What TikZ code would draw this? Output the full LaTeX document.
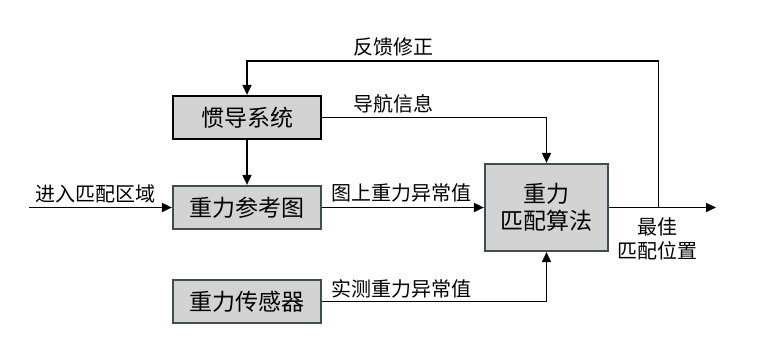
\documentclass[tikz,border=0pt]{standalone}
\usepackage{fontspec}
\setmainfont{Noto Sans CJK SC}
\usetikzlibrary{arrows.meta}
\definecolor{boxfill}{HTML}{D3D3D3}
\definecolor{boxedge}{HTML}{3F4F4F}
\begin{document}
\begin{tikzpicture}[x=1pt,y=-1pt,
  blk/.style={draw=boxedge,line width=2.2pt,fill=boxfill,minimum width=148pt,minimum height=43pt,inner sep=0pt,font=\fontsize{23}{27}\selectfont},
  lbl/.style={inner sep=0pt,anchor=west,font=\fontsize{20}{23}\selectfont},
  conn/.style={line width=1.8pt,-{Triangle[length=10pt,width=9pt]}},
  wire/.style={line width=1.8pt}]
\useasboundingbox (0,0) rectangle (770,341);
\node[blk,draw=black] (ins) at (247,117.5) {惯导系统};
\node[blk] (ref) at (247,207.5) {重力参考图};
\node[blk] (sens) at (247,301.5) {重力传感器};
\node[blk,minimum width=123pt,minimum height=87pt,align=center,font=\fontsize{23}{27}\selectfont] (alg) at (546.5,207.5) {重力\\匹配算法};
\coordinate (in) at (29,207.5);
\coordinate (out) at (716,207.5);
\coordinate (fb) at (658.5,207.5);
\coordinate (fbtop) at (658.5,61);
\draw[conn] (in) -- (ref.west);
\draw[conn] (ins.south) -- (ref.north);
\draw[conn] (ref.east) -- (alg.west);
\draw[conn] (ins.east) -| (alg.north);
\draw[conn] (sens.east) -| (alg.south);
\draw[conn] (alg.east) -- (out);
\draw[conn] (fb) -- (fbtop) -| (ins.north);
\node[lbl] (l1) at (353,47) {反馈修正};
\node[lbl] (l2) at (353,104) {导航信息};
\node[lbl] (l3) at (331,193) {图上重力异常值};
\node[lbl] (l4) at (331,289) {实测重力异常值};
\node[lbl] (l5) at (35,194) {进入匹配区域};
\node[inner sep=0pt,align=center,font=\fontsize{20}{24}\selectfont] (l6) at (657,239) {最佳\\匹配位置};
\end{tikzpicture}
\end{document}
